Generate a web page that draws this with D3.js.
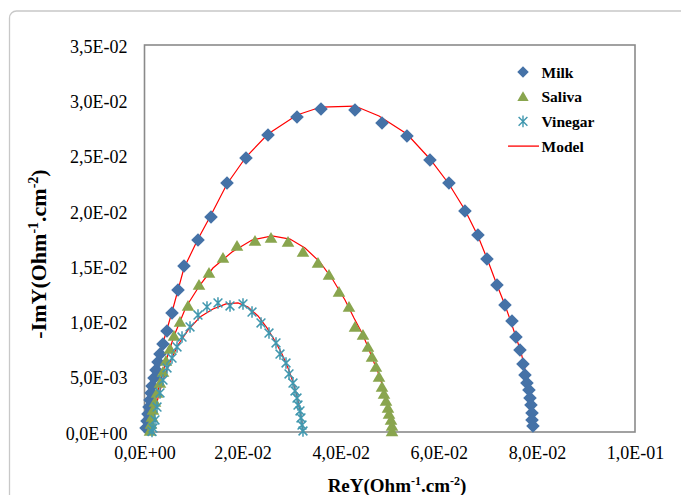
<!DOCTYPE html>
<html>
<head>
<meta charset="utf-8">
<script src="https://cdn.jsdelivr.net/npm/d3@7/dist/d3.min.js"></script>
<style>
  html, body { margin: 0; padding: 0; background: #fff; }
  svg { display: block; }
  svg text { font-family: "Liberation Serif", "Times New Roman", Times, serif; }
</style>
</head>
<body>
<svg id="chart" width="681" height="495"></svg>
<script>
// Nyquist admittance plots: [ReY, -ImY] in Ohm^-1.cm^-2
const milk = [
  [3.1e-4, 3.6e-4], [5.1e-4, 9.9e-4], [7.1e-4, 1.63e-3], [9.2e-4, 2.26e-3],
  [1.12e-3, 2.89e-3], [1.33e-3, 3.53e-3], [1.53e-3, 4.16e-3], [1.94e-3, 4.88e-3],
  [2.34e-3, 5.61e-3], [2.75e-3, 6.33e-3], [3.16e-3, 7.05e-3], [3.77e-3, 7.96e-3],
  [4.59e-3, 9.14e-3], [5.61e-3, 1.076e-2], [6.83e-3, 1.284e-2], [8.05e-3, 1.501e-2],
  [1.091e-2, 1.736e-2], [1.356e-2, 1.944e-2], [1.682e-2, 2.252e-2], [2.069e-2, 2.478e-2],
  [2.518e-2, 2.686e-2], [3.109e-2, 2.849e-2], [3.598e-2, 2.921e-2], [4.291e-2, 2.912e-2],
  [4.842e-2, 2.795e-2], [5.351e-2, 2.677e-2], [5.820e-2, 2.460e-2], [6.207e-2, 2.252e-2],
  [6.533e-2, 1.999e-2], [6.798e-2, 1.782e-2], [6.982e-2, 1.565e-2], [7.186e-2, 1.330e-2],
  [7.349e-2, 1.149e-2], [7.492e-2, 1.004e-2], [7.573e-2, 8.59e-3], [7.655e-2, 7.42e-3],
  [7.716e-2, 6.15e-3], [7.757e-2, 5.16e-3], [7.797e-2, 4.43e-3], [7.838e-2, 3.80e-3],
  [7.859e-2, 3.07e-3], [7.879e-2, 2.44e-3], [7.900e-2, 1.72e-3], [7.900e-2, 1.09e-3],
  [7.920e-2, 5.4e-4]
];

const saliva = [
  [1.12e-3, 9e-5], [1.33e-3, 7.2e-4], [1.53e-3, 1.36e-3], [1.73e-3, 1.99e-3],
  [2.14e-3, 2.71e-3], [2.55e-3, 3.53e-3], [3.16e-3, 4.43e-3], [3.77e-3, 5.43e-3],
  [4.38e-3, 6.42e-3], [5.20e-3, 7.51e-3], [6.01e-3, 8.68e-3], [7.24e-3, 9.95e-3],
  [8.87e-3, 1.140e-2], [1.111e-2, 1.329e-2], [1.315e-2, 1.438e-2], [1.600e-2, 1.574e-2],
  [1.886e-2, 1.682e-2], [2.253e-2, 1.727e-2], [2.579e-2, 1.755e-2], [2.926e-2, 1.718e-2],
  [3.231e-2, 1.628e-2], [3.537e-2, 1.528e-2], [3.761e-2, 1.420e-2], [3.965e-2, 1.266e-2],
  [4.169e-2, 1.131e-2], [4.291e-2, 9.50e-3], [4.454e-2, 8.77e-3], [4.556e-2, 7.69e-3],
  [4.638e-2, 6.78e-3], [4.719e-2, 5.88e-3], [4.781e-2, 4.97e-3], [4.842e-2, 4.07e-3],
  [4.883e-2, 3.44e-3], [4.924e-2, 2.80e-3], [4.964e-2, 2.17e-3], [4.985e-2, 1.63e-3],
  [5.026e-2, 1.09e-3], [5.046e-2, 5.4e-4], [5.046e-2, 5e-5]
];

const vinegar = [
  [1.53e-3, 5e-5], [1.73e-3, 3.6e-4], [2.14e-3, 1.09e-3], [2.55e-3, 2.26e-3],
  [3.16e-3, 3.53e-3], [3.77e-3, 4.70e-3], [4.59e-3, 5.79e-3], [5.61e-3, 6.69e-3],
  [6.63e-3, 7.69e-3], [7.65e-3, 8.59e-3], [9.28e-3, 9.50e-3], [1.091e-2, 1.058e-2],
  [1.274e-2, 1.131e-2], [1.498e-2, 1.167e-2], [1.743e-2, 1.140e-2], [2.008e-2, 1.158e-2],
  [2.192e-2, 1.085e-2], [2.375e-2, 9.86e-3], [2.538e-2, 8.95e-3], [2.681e-2, 8.05e-3],
  [2.762e-2, 7.05e-3], [2.885e-2, 6.24e-3], [2.946e-2, 5.25e-3], [3.027e-2, 4.43e-3],
  [3.068e-2, 3.71e-3], [3.109e-2, 3.07e-3], [3.129e-2, 2.44e-3], [3.170e-2, 1.90e-3],
  [3.190e-2, 1.27e-3], [3.211e-2, 6.3e-4], [3.231e-2, 9e-5]
];

// Fitted equivalent-circuit curves
const modelMilk = [
  [1e-4, 0], [1.12e-3, 2.62e-3], [2.34e-3, 5.61e-3], [3.77e-3, 8.05e-3],
  [5.61e-3, 1.085e-2], [8.05e-3, 1.483e-2], [1.091e-2, 1.745e-2], [1.356e-2, 1.963e-2],
  [1.682e-2, 2.243e-2], [2.069e-2, 2.487e-2], [2.518e-2, 2.695e-2], [3.109e-2, 2.867e-2],
  [3.598e-2, 2.939e-2], [4.291e-2, 2.948e-2], [4.781e-2, 2.858e-2], [5.351e-2, 2.695e-2],
  [5.820e-2, 2.469e-2], [6.207e-2, 2.243e-2], [6.533e-2, 2.008e-2], [6.798e-2, 1.773e-2],
  [7.003e-2, 1.547e-2], [7.186e-2, 1.330e-2], [7.349e-2, 1.149e-2], [7.471e-2, 9.95e-3],
  [7.573e-2, 8.59e-3], [7.675e-2, 7.24e-3], [7.737e-2, 6.06e-3], [7.797e-2, 4.88e-3],
  [7.838e-2, 3.80e-3], [7.879e-2, 2.71e-3], [7.900e-2, 1.63e-3], [7.920e-2, 5.4e-4]
];

const modelSaliva = [
  [7.1e-4, 0], [1.73e-3, 1.99e-3], [3.16e-3, 4.43e-3], [4.38e-3, 6.42e-3],
  [6.01e-3, 8.68e-3], [8.46e-3, 1.131e-2], [1.131e-2, 1.329e-2], [1.396e-2, 1.483e-2],
  [1.784e-2, 1.628e-2], [2.192e-2, 1.736e-2], [2.600e-2, 1.773e-2], [2.967e-2, 1.745e-2],
  [3.272e-2, 1.664e-2], [3.578e-2, 1.537e-2], [3.843e-2, 1.375e-2], [4.088e-2, 1.194e-2],
  [4.271e-2, 1.031e-2], [4.434e-2, 8.95e-3], [4.556e-2, 7.69e-3], [4.658e-2, 6.51e-3],
  [4.760e-2, 5.43e-3], [4.842e-2, 4.34e-3], [4.924e-2, 3.07e-3], [4.985e-2, 1.99e-3],
  [5.026e-2, 9.9e-4], [5.046e-2, 9e-5]
];

const modelVinegar = [
  [1.33e-3, 0], [1.94e-3, 1.45e-3], [2.75e-3, 3.07e-3], [3.77e-3, 4.70e-3],
  [5.20e-3, 6.33e-3], [6.83e-3, 7.87e-3], [8.87e-3, 9.22e-3], [1.131e-2, 1.040e-2],
  [1.396e-2, 1.112e-2], [1.662e-2, 1.158e-2], [1.906e-2, 1.167e-2], [2.110e-2, 1.131e-2],
  [2.314e-2, 1.049e-2], [2.497e-2, 9.41e-3], [2.660e-2, 8.23e-3], [2.803e-2, 7.05e-3],
  [2.926e-2, 5.79e-3], [3.027e-2, 4.52e-3], [3.109e-2, 3.26e-3], [3.170e-2, 1.99e-3],
  [3.211e-2, 9.0e-4], [3.231e-2, 0]
];

const xTicks = [0, 0.02, 0.04, 0.06, 0.08, 0.1];
const xTickLabels = ["0,0E+00", "2,0E-02", "4,0E-02", "6,0E-02", "8,0E-02", "1,0E-01"];
const yTicks = [0, 0.005, 0.01, 0.015, 0.02, 0.025, 0.03, 0.035];
const yTickLabels = ["0,0E+00", "5,0E-03", "1,0E-02", "1,5E-02", "2,0E-02", "2,5E-02", "3,0E-02", "3,5E-02"];

const legendLabels = ["Milk", "Saliva", "Vinegar", "Model"];

// ---------------------------------------------------------------------------
const svg = d3.select("#chart");
const colors = { milk: "#4572A7", saliva: "#89A54E", vinegar: "#4198AF", model: "#FF0000" };

const plot = { left: 144.5, right: 635, top: 45, bottom: 432 };

const x = d3.scaleLinear().domain([0, 0.1]).range([plot.left, plot.right]);
const y = d3.scaleLinear().domain([0, 0.035]).range([plot.bottom, plot.top]);

// outer chart frame with rounded corner
svg.append("rect")
  .attr("x", 9.5).attr("y", 11).attr("width", 700).attr("height", 520)
  .attr("rx", 7).attr("fill", "#fff")
  .attr("stroke", "#c8c8c8").attr("stroke-width", 1.3);

// plot area border
svg.append("rect")
  .attr("x", plot.left).attr("y", plot.top)
  .attr("width", plot.right - plot.left).attr("height", plot.bottom - plot.top)
  .attr("fill", "none").attr("stroke", "#8a8a8a").attr("stroke-width", 1.6);

// axes
const xAxis = d3.axisBottom(x).tickValues(xTicks).tickSize(0).tickPadding(14)
  .tickFormat((d, i) => xTickLabels[i]);
const yAxis = d3.axisLeft(y).tickValues(yTicks).tickSize(0).tickPadding(17)
  .tickFormat((d, i) => yTickLabels[i]);

const gx = svg.append("g").attr("transform", `translate(0,${plot.bottom})`).call(xAxis);
const gy = svg.append("g").attr("transform", `translate(${plot.left},0)`).call(yAxis);
[gx, gy].forEach(g => {
  g.attr("font-family", null);
  g.select(".domain").remove();
  g.selectAll("text").attr("font-size", 18).attr("fill", "#000");
});
gy.selectAll("text").attr("dy", "0.40em");

// axis titles with superscripts
function titleText(sel, main, size, supSize) {
  sel.attr("font-weight", "bold")
    .attr("font-size", size).attr("fill", "#000").attr("text-anchor", "middle");
  sel.append("tspan").text(main);
  sel.append("tspan").text("-1").attr("font-size", supSize).attr("dy", -size * 0.38);
  sel.append("tspan").text(".cm").attr("dy", size * 0.38);
  sel.append("tspan").text("-2").attr("font-size", supSize).attr("dy", -size * 0.38);
  sel.append("tspan").text(")").attr("dy", size * 0.38);
}
titleText(svg.append("text").attr("x", 397).attr("y", 492), "ReY(Ohm", 19, 12);
titleText(svg.append("text").attr("transform", "translate(46,254) rotate(-90)"), "-ImY(Ohm", 22, 14);

// model curves
const line = d3.line().x(d => x(d[0])).y(d => y(d[1]));
[modelMilk, modelSaliva, modelVinegar].forEach(m => {
  svg.append("path").datum(m).attr("d", line)
    .attr("fill", "none").attr("stroke", colors.model).attr("stroke-width", 1.2);
});

// marker shapes
const diamondPath = "M0,-6.8L6.8,0L0,6.8L-6.8,0Z";
const trianglePath = "M0,-6L6.3,4.8L-6.3,4.8Z";
const starPath = "M0,-5.8V5.8M-4.4,-4.4L4.4,4.4M-4.4,4.4L4.4,-4.4";

function drawMarkers(data, path, fill, stroke) {
  svg.append("g").selectAll("path").data(data).join("path")
    .attr("transform", d => `translate(${x(d[0])},${y(d[1])})`)
    .attr("d", path)
    .attr("fill", fill)
    .attr("stroke", stroke || "none")
    .attr("stroke-width", stroke ? 1.5 : 0);
}
drawMarkers(milk, diamondPath, colors.milk);
drawMarkers(saliva, trianglePath, colors.saliva);
drawMarkers(vinegar, starPath, "none", colors.vinegar);

// legend
const legend = svg.append("g");
const legendX = 523, legendY0 = 72, legendStep = 24.7;
const legendMarks = [
  g => g.append("path").attr("d", diamondPath).attr("transform", "scale(0.85)").attr("fill", colors.milk),
  g => g.append("path").attr("d", trianglePath).attr("transform", "scale(0.9)").attr("fill", colors.saliva),
  g => g.append("path").attr("d", starPath).attr("fill", "none").attr("stroke", colors.vinegar).attr("stroke-width", 1.4),
  g => g.append("line").attr("x1", -15).attr("x2", 16).attr("stroke", colors.model).attr("stroke-width", 1.3)
];
legendLabels.forEach((lab, i) => {
  const g = legend.append("g").attr("transform", `translate(${legendX},${legendY0 + i * legendStep})`);
  legendMarks[i](g);
  g.append("text").attr("x", 18.5).attr("y", 5.5)
    .attr("font-weight", "bold").attr("font-size", 15.5)
    .attr("fill", "#000").text(lab);
});
</script>
</body>
</html>
